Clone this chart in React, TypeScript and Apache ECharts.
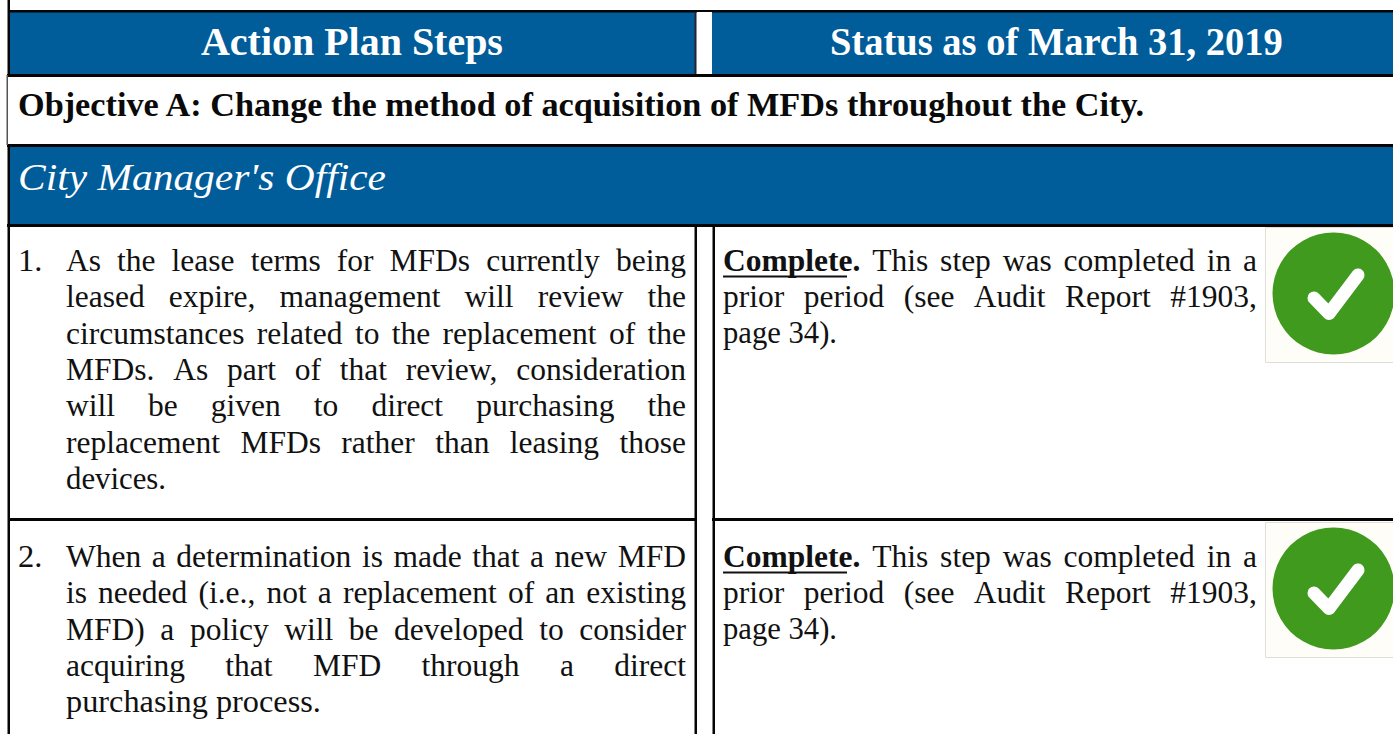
import React, { useEffect, useRef } from "react";
import * as echarts from "echarts";

const headerLeft = "Action Plan Steps";
const headerRight = "Status as of March 31, 2019";
const objective = "Objective A: Change the method of acquisition of MFDs throughout the City.";
const department = "City Manager's Office";
const stepNumbers = ["1.", "2."];
const step1Lines = [
  "As the lease terms for MFDs currently being",
  "leased expire, management will review the",
  "circumstances related to the replacement of the",
  "MFDs. As part of that review, consideration",
  "will be given to direct purchasing the",
  "replacement MFDs rather than leasing those",
  "devices.",
];
const step2Lines = [
  "When a determination is made that a new MFD",
  "is needed (i.e., not a replacement of an existing",
  "MFD) a policy will be developed to consider",
  "acquiring that MFD through a direct",
  "purchasing process.",
];
const statusLines = [
  "Complete. This step was completed in a",
  "prior period (see Audit Report #1903,",
  "page 34).",
];

const FONT = '"Liberation Serif"';
const BLUE = "#015C9A";
const BLACK = "#050505";
const BODY_SIZE = 32.5;
const BODY_SX = 0.97;
const PITCH = 36.4;

const ctx = document.createElement("canvas").getContext("2d")!;
function measure(t: string, size: number, weight = "normal", style = "normal") {
  ctx.font = `${style} ${weight} ${size}px ${FONT}`;
  return ctx.measureText(t).width;
}
function textEl(t: string, x: number, baseline: number, size: number, fill: string, sx = 1, weight = "normal", style = "normal") {
  return {
    type: "text",
    x,
    y: baseline - size * 0.3375,
    scaleX: sx,
    silent: true,
    z: 5,
    style: { text: t, x: 0, y: 0, fontFamily: FONT, fontSize: size, fontWeight: weight, fontStyle: style, fill, align: "left", verticalAlign: "middle" },
  };
}
function fitted(t: string, left: number, right: number, baseline: number, size: number, fill: string, weight = "normal", style = "normal") {
  const w = measure(t, size, weight, style);
  return textEl(t, left, baseline, size, fill, (right - left) / w, weight, style);
}
function justified(line: string, left: number, right: number, baseline: number, boldFirst = false) {
  const words = line.split(" ");
  const weightOf = (i: number) => (boldFirst && i === 0 ? "bold" : "normal");
  const widths = words.map((w, i) => measure(w, BODY_SIZE, weightOf(i)));
  const sum = widths.reduce((a, b) => a + b, 0);
  const avail = right - left;
  const gaps = words.length - 1;
  const minSpace = 5.5;
  const sx = Math.min(BODY_SX, (avail - gaps * minSpace) / sum);
  const gap = (avail - sum * sx) / gaps;
  let x = left;
  return words.map((w, i) => {
    const el = textEl(w, x, baseline, BODY_SIZE, "#111", sx, weightOf(i));
    x += widths[i] * sx + gap;
    return el;
  });
}
function paragraph(lines: string[], left: number, right: number, firstBase: number, lastWidth: number, boldFirst = false) {
  const out: any[] = [];
  lines.forEach((l, i) => {
    const b = firstBase + i * PITCH;
    if (i === lines.length - 1) out.push(fitted(l, left, left + lastWidth, b, BODY_SIZE, "#111"));
    else out.push(...justified(l, left, right, b, boldFirst && i === 0));
  });
  return out;
}
const rect = (x: number, y: number, w: number, h: number, fill: string, z = 1) => ({
  type: "rect", silent: true, z, shape: { x, y, width: w, height: h }, style: { fill },
});
function badge(top: number) {
  const cy = top + 66.5;
  return [
    { type: "rect", silent: true, z: 2, shape: { x: 1265.5, y: top + 0.5, width: 140, height: 135 }, style: { fill: "#FFFDF8", stroke: "#DEDEDA", lineWidth: 1 } },
    { type: "circle", silent: true, z: 3, shape: { cx: 1333.5, cy, r: 61 }, style: { fill: "#3F9A1E" } },
    {
      type: "polyline", silent: true, z: 4,
      shape: { points: [[1314, cy + 4.5], [1329, cy + 20], [1358, cy - 18.5]] },
      style: { stroke: "#FFFFFF", lineWidth: 13, lineCap: "round", lineJoin: "round", fill: "none" },
    },
  ];
}

function buildGraphic() {
  const els: any[] = [
    rect(0, 0, 1393, 734, "#FFFFFF", 0),
    rect(8, 11, 687, 64, BLUE),
    rect(712, 11, 681, 64, BLUE),
    rect(8, 145, 1385, 80, BLUE),
    rect(8, 10, 1385, 2.5, BLACK, 2),
    rect(7, 74, 1386, 3, BLACK, 2),
    rect(7, 144, 1386, 3, BLACK, 2),
    rect(7, 224, 1386, 3, BLACK, 2),
    rect(8, 518, 688, 3, BLACK, 2),
    rect(712, 518, 681, 3, BLACK, 2),
    rect(7.5, 0, 2.5, 75, BLACK, 2),
    rect(6.5, 75, 1.5, 70, "#555", 2),
    rect(7.5, 145, 2.5, 589, BLACK, 2),
    rect(694.5, 12, 2, 62, "#223", 2),
    rect(697, 12, 15, 62, "#FFFFFF", 2),
    rect(694.5, 225, 2.5, 509, BLACK, 2),
    rect(712.5, 225, 2.5, 509, BLACK, 2),
    fitted(headerLeft, 201, 503, 55, 39.5, "#FFFFFF", "bold"),
    fitted(headerRight, 830, 1283, 55, 39.5, "#FFFFFF", "bold"),
    fitted(objective, 18, 1147, 115.7, 33, "#0A0A0A", "bold"),
    fitted(department, 18, 386, 190, 39, "#FFFFFF", "normal", "italic"),
    textEl(stepNumbers[0], 18, 270.7, BODY_SIZE, "#111"),
    textEl(stepNumbers[1], 18, 566.7, BODY_SIZE, "#111"),
    ...paragraph(step1Lines, 66, 686, 270.7, 100),
    ...paragraph(step2Lines, 66, 686, 566.7, 255),
    ...paragraph(statusLines, 723, 1257, 270.7, 114, true),
    ...paragraph(statusLines, 723, 1257, 566.7, 114, true),
    rect(723, 275.5, 124, 2, "#111", 6),
    rect(723, 571.5, 124, 2, "#111", 6),
    ...badge(227),
    ...badge(522),
  ];
  return els;
}

export default function App() {
  const ref = useRef<HTMLDivElement>(null);
  useEffect(() => {
    document.body.style.margin = "0";
    const chart = echarts.init(ref.current!, undefined, { renderer: "svg" });
    chart.setOption({ animation: false, graphic: { elements: buildGraphic() } });
    return () => chart.dispose();
  }, []);
  return <div ref={ref} style={{ width: 1393, height: 734, overflow: "hidden" }} />;
}
